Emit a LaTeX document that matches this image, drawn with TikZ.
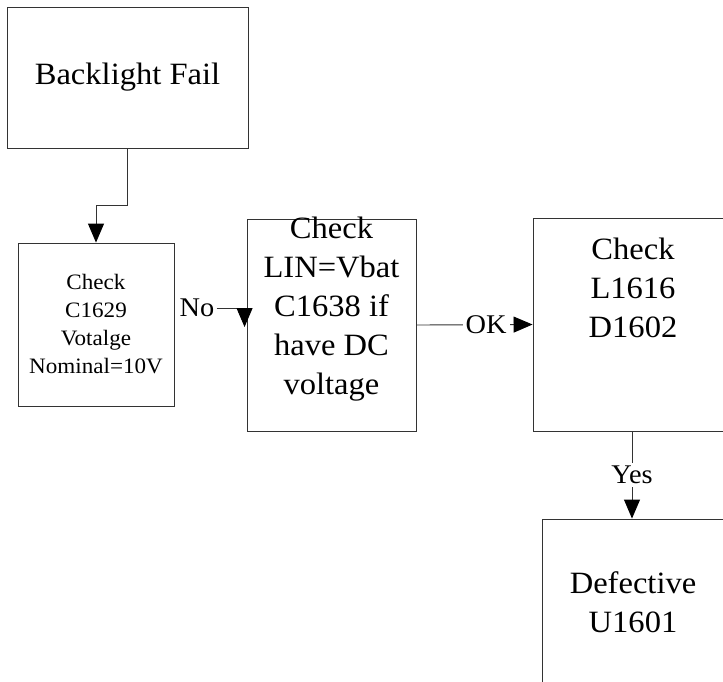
\documentclass[tikz,border=0pt]{standalone}
\usepackage{fontspec}
\setmainfont{Liberation Serif}[FakeStretch=1.05]
\usepackage{xcolor}
\usetikzlibrary{arrows.meta,positioning,calc}

\begin{document}
\begin{tikzpicture}[
    x=1pt, y=-1pt,
    box/.style={draw=black!80, line width=0.9pt, inner sep=0pt},
    txt/.style={align=center, font=\fontsize{31}{39}\selectfont},
    small/.style={align=center, font=\fontsize{22}{28}\selectfont},
    lbl/.style={font=\fontsize{27}{30}\selectfont, inner sep=3pt, fill=white},
    flow/.style={draw=black!80, line width=0.9pt, -{Triangle[length=19pt, width=16pt, color=black]}}
  ]
    \useasboundingbox (0,0) rectangle (723,681);
    \fill[white] (0,0) rectangle (723,681);

    % boxes
    \node[box, minimum width=241pt, minimum height=141pt] (fail) at (127.5,77.5) {};
    \node[txt] at (fail.center) {Backlight Fail};
    \node[box, minimum width=156pt, minimum height=163pt] (c1629) at (96,324.5) {};
    \node[small] at (c1629.center) {Check\\C1629\\Votalge\\Nominal=10V};
    \node[box, minimum width=169pt, minimum height=212pt] (lin) at (331.5,325) {};
    \node[txt] at ([yshift=16pt]lin.center) {Check\\LIN=Vbat\\C1638 if\\have DC\\voltage};
    \node[box, minimum width=202pt, minimum height=213pt] (l1616) at (634,324.5) {};
    \node[txt] at ([xshift=-1pt,yshift=37pt]l1616.center) {Check\\L1616\\D1602};
    \node[box, minimum width=193pt, minimum height=181pt] (defective) at (638.5,609.5) {};
    \node[txt] at (633,602) {Defective\\U1601};

    % connectors
    \draw[flow] (fail.south) -- ++(0,57) -| (c1629.north);
    \node[lbl, fill=none, inner sep=0pt] (no) at (197,308) {No};
    \draw[flow] ([xshift=2pt]no.east) -| ([xshift=-2pt,yshift=-2pt]lin.west);
    \draw[flow] (lin.east) -- node[lbl, pos=0.6] {OK} (l1616.west);
    \draw[flow] ([xshift=-2pt]l1616.south) -- ([xshift=-2pt]l1616.south |- defective.north)
      node[lbl, midway] {Yes};
  \end{tikzpicture}
\end{document}
